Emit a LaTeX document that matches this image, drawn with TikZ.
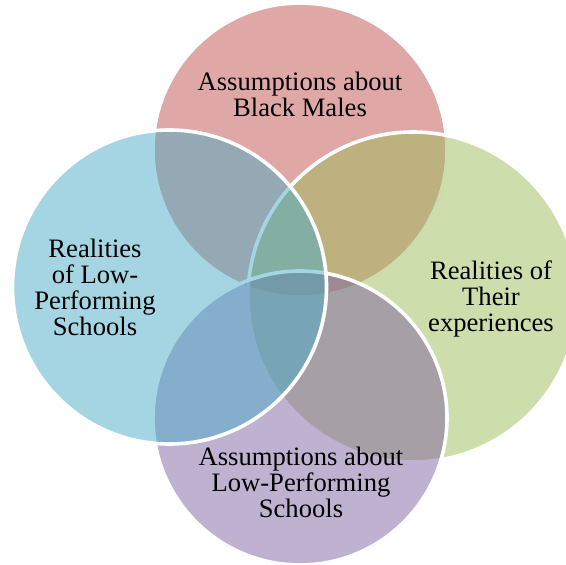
\documentclass[tikz,border=0pt]{standalone}
\usepackage{fontspec}
\setmainfont{Liberation Serif}
\definecolor{cred}{HTML}{C0504D}
\definecolor{cgreen}{HTML}{9BBB59}
\definecolor{cpurple}{HTML}{8064A2}
\definecolor{caqua}{HTML}{4BACC6}
\begin{document}
\begin{tikzpicture}[x=1pt,y=-1pt,
  venn/.style={draw=white, line width=3.6pt, fill opacity=0.5},
  lbl/.style={align=center, text=black, inner sep=0pt,
    font=\fontsize{26.6}{26}\selectfont}]
\useasboundingbox (0,0) rectangle (566,565);
\clip (0,0) rectangle (566,565);
\path[venn, fill=cred]    (300,150)   circle[radius=147pt];
\path[venn, fill=cgreen]  (413,297)   circle[radius=165pt];
\path[venn, fill=cpurple] (300,418)   circle[radius=147pt];
\path[venn, fill=caqua]   (169.5,287) circle[radius=157pt];
\node[lbl] (tl) at (300,94)    {Assumptions about\\Black Males};
\node[lbl] (rl) at (491,298.5) {Realities of\\Their\\experiences};
\node[lbl] (bl) at (301,482)   {Assumptions about\\Low-Performing\\Schools};
\node[lbl] (ll) at (95,287.6)  {Realities\\of Low-\\Performing\\Schools};
\end{tikzpicture}
\end{document}
